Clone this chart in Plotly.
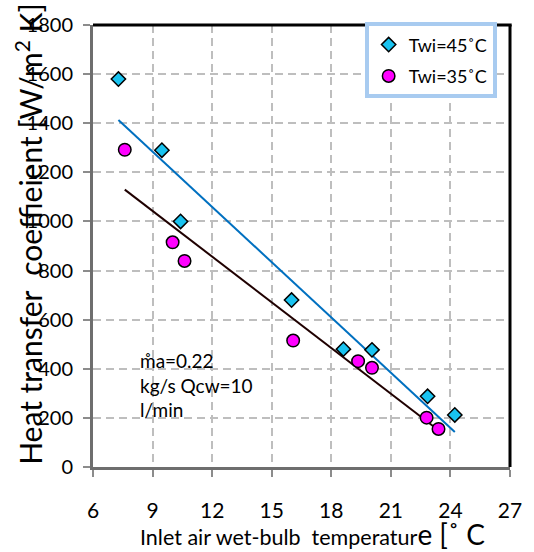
import numpy as np
import plotly.graph_objects as go

# Inlet air wet-bulb temperature [°C] and heat transfer coefficient [W/m² K]
t_wb_45 = [7.28, 9.47, 10.41, 16.0, 18.61, 20.05, 22.85, 24.22]
h_45 = [1580, 1290, 1000, 680, 480, 477, 288, 212]

t_wb_35 = [7.6, 10.01, 10.61, 16.08, 19.35, 20.05, 22.8, 23.4]
h_35 = [1292, 915, 839, 515, 431, 404, 201, 155]

x_ticks = [6, 9, 12, 15, 18, 21, 24, 27]
y_ticks = list(range(0, 1801, 200))

FONT = "Lato"


def trend(x, y):
    """Least-squares straight line across the range of the data."""
    k, b = np.polyfit(x, y, 1)
    xs = np.array([min(x), max(x)])
    return xs, k * xs + b


fig = go.Figure()

tx, ty = trend(t_wb_45, h_45)
fig.add_trace(go.Scatter(x=tx, y=ty, mode="lines",
                         line=dict(color="#0070C0", width=2), showlegend=False,
                         hoverinfo="skip"))
tx, ty = trend(t_wb_35, h_35)
fig.add_trace(go.Scatter(x=tx, y=ty, mode="lines",
                         line=dict(color="#1F0000", width=2), showlegend=False,
                         hoverinfo="skip"))

fig.add_trace(go.Scatter(
    x=t_wb_45, y=h_45, mode="markers", name="Twi=45˚C", legendgroup="a",
    marker=dict(symbol="diamond", size=11, color="#19C3F0",
                line=dict(color="black", width=1.5))))
fig.add_trace(go.Scatter(
    x=t_wb_35, y=h_35, mode="markers", name="Twi=35˚C", legendgroup="b",
    marker=dict(symbol="circle", size=12.5, color="#FF00FF",
                line=dict(color="black", width=1.5))))

axis_common = dict(
    ticks="outside", ticklen=7, tickcolor="#8C8C8C", tickwidth=1.5,
    showline=True, linecolor="#6E6E6E", linewidth=3,
    showgrid=True, gridcolor="#BEBEBE", griddash="8px,5px", gridwidth=1.5,
    zeroline=False,
)

fig.update_layout(
    width=534, height=552,
    margin=dict(l=93, r=18, t=17, b=85),
    paper_bgcolor="white", plot_bgcolor="white",
    font=dict(family=FONT, color="black"),
    legend=dict(x=0.968, y=1.006, xanchor="right", yanchor="top",
                bgcolor="white", bordercolor="#A8CBF0", borderwidth=4,
                font=dict(size=18, family=FONT), tracegroupgap=5,
                itemwidth=30),
    xaxis=dict(range=[6, 27], tickvals=x_ticks, ticklabelstandoff=16,
               tickfont=dict(size=21, family=FONT), **axis_common),
    yaxis=dict(range=[0, 1800], tickvals=y_ticks, ticklabelstandoff=6,
               tickfont=dict(size=20, family=FONT), **axis_common),
)

# Black frame on the top and right edges
fig.add_shape(type="line", xref="paper", yref="paper", x0=0, x1=1.004, y0=1, y1=1,
              line=dict(color="black", width=3))
fig.add_shape(type="line", xref="paper", yref="paper", x0=1, x1=1, y0=0, y1=1,
              line=dict(color="black", width=3))

# Axis titles
fig.add_annotation(
    xref="paper", yref="paper", x=-0.154, y=0.527, xanchor="center", yanchor="middle",
    textangle=-90, showarrow=False,
    text="Heat transfer\u00a0\u00a0coeffieient [W/m<sup>2</sup> K]",
    font=dict(size=30, family=FONT))
fig.add_annotation(
    xref="paper", yref="paper", x=0.526, y=-0.151, xanchor="center", yanchor="middle",
    showarrow=False,
    text="Inlet air wet-bulb\u00a0\u00a0temperatur<span style='font-size:28px'>e [˚ C</span>",
    font=dict(size=21.5, family=FONT))

# Operating conditions note
fig.add_annotation(
    x=8.25, y=488, xref="x", yref="y", xanchor="left", yanchor="top",
    showarrow=False, align="left",
    text="m\u030aa=0.22<br>kg/s Qcw=10<br>l/min",
    font=dict(size=19, family=FONT))

fig.write_html("out.html")
